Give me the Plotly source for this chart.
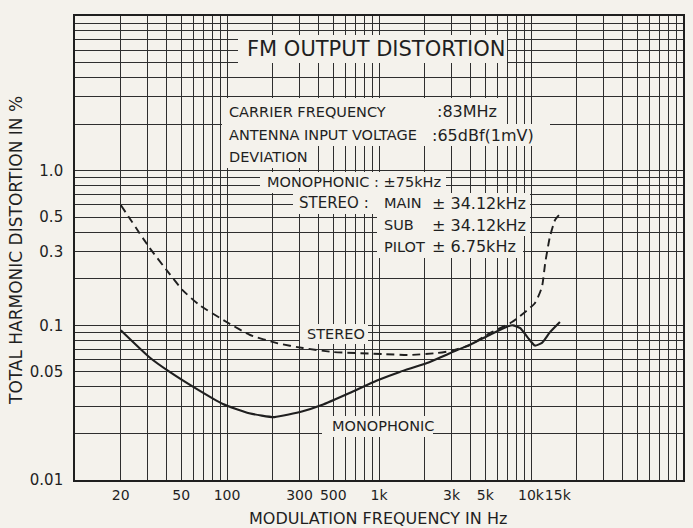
import plotly.graph_objects as go

# ---- data ----
mono_freq = [20, 31, 42, 60, 94, 140, 205, 315, 420, 640, 970, 1370, 2070, 2930,
             3970, 5370, 6950, 7600, 8500, 9550, 10600, 11800, 13300, 15500]
mono_thd = [0.093, 0.062, 0.050, 0.040, 0.031, 0.027, 0.0255, 0.0278, 0.0305, 0.0365,
            0.044, 0.050, 0.057, 0.066, 0.075, 0.087, 0.098, 0.100, 0.096, 0.083,
            0.074, 0.077, 0.090, 0.105]

stereo_freq = [20, 31, 41, 51, 66, 102, 142, 213, 316, 500, 1060, 1600, 2410, 2930,
               3970, 5370, 7500, 10600, 11800, 12400, 13300, 14400, 15700]
stereo_thd = [0.60, 0.316, 0.221, 0.169, 0.135, 0.1035, 0.0866, 0.0768, 0.0713,
              0.0672, 0.0652, 0.0643, 0.0662, 0.0682, 0.0746, 0.0892, 0.105, 0.139,
              0.177, 0.253, 0.372, 0.48, 0.532]

x_tick_vals = [20, 50, 100, 300, 500, 1000, 3000, 5000, 10000, 15000]
x_tick_text = ["20", "50", "100", "300", "500", "1k", "3k", "5k", "10k", "15k"]
y_tick_vals = [1.0, 0.5, 0.3, 0.1, 0.05, 0.01]
y_tick_text = ["1.0", "0.5", "0.3", "0.1", "0.05", "0.01"]

# log-paper grid (1..9 in each decade)
x_grid = [m * 10 ** e for e in range(1, 5) for m in range(1, 10)] + [100000]
y_grid = [round(m * 10.0 ** e, 6) for e in range(-2, 1) for m in range(1, 10)] + [10]
y_lab = {round(v, 6): t for v, t in zip(y_tick_vals, y_tick_text)}
y_grid_text = [y_lab.get(round(v, 6), "") for v in y_grid]

PAPER = "#f4f2ec"
INK = "#1f1f1f"
FONT = "DejaVu Sans"

# plot-area geometry in pixels
L, T, W, H = 75, 16, 608, 464


def px(x):
    return (x - L) / W


def py(y):
    return (T + H - y) / H


fig = go.Figure()
fig.add_trace(go.Scatter(x=stereo_freq, y=stereo_thd, mode="lines",
                         line=dict(color=INK, width=1.9, dash="8px,5px",
                                   shape="spline", smoothing=0.5),
                         showlegend=False, hoverinfo="skip"))
fig.add_trace(go.Scatter(x=mono_freq, y=mono_thd, mode="lines",
                         line=dict(color=INK, width=2.1, shape="spline", smoothing=0.5),
                         showlegend=False, hoverinfo="skip"))
# carrier trace for the label-only overlay axis
fig.add_trace(go.Scatter(x=mono_freq, y=mono_thd, xaxis="x2", mode="lines",
                         line=dict(width=0), showlegend=False, hoverinfo="skip"))

# paper-coloured boxes that clear the grid behind the text blocks
boxes = [
    (238, 507, 35, 63),
    (222, 507, 98, 124),
    (222, 550, 124, 146),
    (222, 314, 146, 168),
    (260, 446, 172, 193),
    (293, 530, 193, 214),
    (377, 530, 214, 236),
    (377, 523, 236, 258),
    (300, 368, 324, 344),
    (322, 433, 416, 437),
]
shapes = [dict(type="rect", xref="paper", yref="paper", x0=px(a), x1=px(b),
               y0=py(d), y1=py(c), fillcolor=PAPER, line=dict(width=0),
               layer="above") for a, b, c, d in boxes]

texts = [
    ("FM OUTPUT DISTORTION", 245, 49, 21),
    ("CARRIER FREQUENCY", 227, 112, 14.5),
    (":83MHz", 435, 112, 16),
    ("ANTENNA INPUT VOLTAGE", 227, 135, 14.5),
    (":65dBf(1mV)", 430, 135, 16),
    ("DEVIATION", 227, 157, 14.5),
    ("MONOPHONIC : ±75kHz", 265, 182, 14.5),
    ("STEREO :", 297, 203, 15),
    ("MAIN", 382, 203, 14.5),
    ("± 34.12kHz", 430, 203, 16),
    ("SUB", 382, 225, 14.5),
    ("± 34.12kHz", 430, 225, 16),
    ("PILOT", 382, 247, 14.5),
    ("± 6.75kHz", 430, 247, 16),
    ("STEREO", 305, 334, 14.5),
    ("MONOPHONIC", 330, 426, 14.5),
]
annotations = [dict(text=t, x=px(x), y=py(y), xref="paper", yref="paper",
                    xanchor="left", yanchor="middle", showarrow=False,
                    font=dict(family=FONT, size=s, color=INK)) for t, x, y, s in texts]
annotations.append(dict(text="TOTAL HARMONIC DISTORTION IN %", x=px(16), y=py(251),
                        xref="paper", yref="paper", xanchor="center", yanchor="middle",
                        textangle=-90, showarrow=False,
                        font=dict(family=FONT, size=17, color=INK)))
annotations.append(dict(text="MODULATION FREQUENCY IN Hz", x=px(378), y=py(518),
                        xref="paper", yref="paper", xanchor="center", yanchor="middle",
                        showarrow=False, font=dict(family=FONT, size=16, color=INK)))

axis_common = dict(type="log", showline=True, mirror=True, linecolor=INK, linewidth=1.6,
                   gridcolor="#2e2e2e", gridwidth=1.3, ticks="", zeroline=False,
                   automargin=False)

fig.update_layout(
    width=693, height=528,
    margin=dict(l=L, r=693 - L - W, t=T, b=528 - T - H),
    paper_bgcolor=PAPER, plot_bgcolor=PAPER,
    font=dict(family=FONT, color=INK),
    showlegend=False,
    xaxis=dict(axis_common, range=[1, 5], tickvals=x_grid,
               ticktext=[""] * len(x_grid), showgrid=True),
    xaxis2=dict(type="log", range=[1, 5], overlaying="x", side="bottom", anchor="y",
                tickvals=x_tick_vals, ticktext=x_tick_text, showgrid=False,
                showline=False, ticks="", zeroline=False, ticklabelstandoff=5,
                tickangle=0, automargin=False,
                tickfont=dict(family=FONT, size=14, color=INK)),
    yaxis=dict(axis_common, range=[-2, 1], tickvals=y_grid, ticktext=y_grid_text,
               showgrid=True, ticklabelstandoff=7,
               tickfont=dict(family=FONT, size=15, color=INK)),
    shapes=shapes,
    annotations=annotations,
)

fig.write_html("out.html", config={"displayModeBar": False},
               post_script="document.body.style.margin='0';"
                           "document.body.style.background='" + PAPER + "';")
